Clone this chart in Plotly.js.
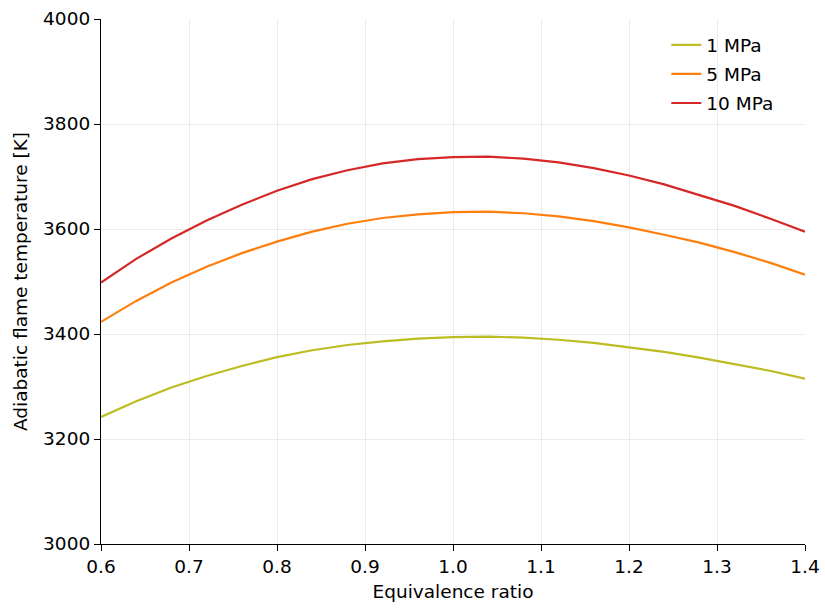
<!DOCTYPE html>
<html><head><meta charset="utf-8">
<script src="https://cdn.plot.ly/plotly-3.0.1.min.js"></script>
<style>html,body{margin:0;padding:0;background:#fff}</style>
</head><body>
<div id="chart" style="width:825px;height:608px"></div>
<script>
const phi = [0.60,0.64,0.68,0.72,0.76,0.80,0.84,0.88,0.92,0.96,1.00,1.04,1.08,1.12,1.16,1.20,1.24,1.28,1.32,1.36,1.40];
const T_1MPa = [3242,3272,3298,3320,3339,3356,3369,3379,3386,3391,3394,3395,3393,3389,3383,3375,3366,3355,3343,3330,3315];
const T_5MPa = [3423,3463,3498,3528,3554,3576,3595,3610,3621,3628,3632,3633,3630,3624,3615,3603,3589,3574,3556,3536,3513];
const T_10MPa = [3498,3543,3582,3616,3646,3673,3695,3712,3725,3733,3737,3738,3734,3727,3716,3702,3685,3665,3644,3620,3595];
const seriesNames = ['1 MPa','5 MPa','10 MPa'];
const colors = ['#bcbd22','#ff7f0e','#d62728'];
const ys = [T_1MPa,T_5MPa,T_10MPa];
const traces = ys.map((y,i)=>({x:phi,y:y,type:'scatter',mode:'lines',name:seriesNames[i],legendgroup:'g'+i,line:{color:colors[i],width:2.2}}));
const font = {family:'DejaVu Sans, sans-serif',size:18.5,color:'#000'};
const layout = {
  width:825,height:608,
  margin:{l:101,r:20,t:19,b:64},
  paper_bgcolor:'#fff',plot_bgcolor:'#fff',
  font:font,
  showlegend:true,
  legend:{x:0.803,y:0.986,xanchor:'left',yanchor:'top',bgcolor:'rgba(0,0,0,0)',font:font,tracegroupgap:2},
  xaxis:{range:[0.6,1.4],dtick:0.1,tick0:0.6,tickformat:'.1f',showgrid:true,gridcolor:'#ebebeb',gridwidth:1,
    showline:true,linecolor:'#000',linewidth:1.2,ticks:'outside',ticklen:6,tickcolor:'#000',zeroline:false,
    title:{text:'Equivalence ratio',font:font,standoff:8},tickfont:font},
  yaxis:{range:[3000,4000],dtick:200,showgrid:true,gridcolor:'#ebebeb',gridwidth:1,
    showline:true,linecolor:'#000',linewidth:1.2,ticks:'outside',ticklen:6,tickcolor:'#000',zeroline:false,
    title:{text:'Adiabatic flame temperature [K]',font:font,standoff:10},tickfont:font}
};
Plotly.newPlot('chart',traces,layout,{displayModeBar:false});
</script>
</body></html>
